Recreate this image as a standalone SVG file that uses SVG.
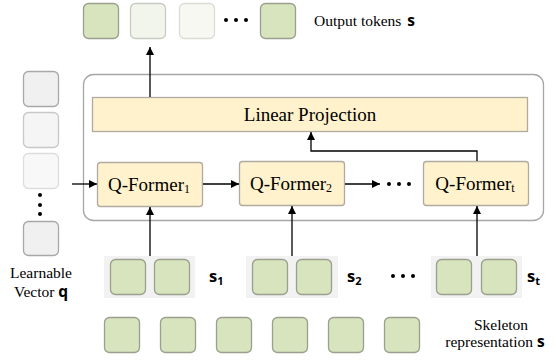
<svg xmlns="http://www.w3.org/2000/svg" width="556" height="360" viewBox="0 0 556 360">
  <defs>
    <marker id="arrow" viewBox="0 0 10 10" refX="10" refY="5" markerWidth="8" markerHeight="8" markerUnits="userSpaceOnUse" orient="auto">
      <path d="M0,0 L10,5 L0,10 z" fill="#000"/>
    </marker>
  </defs>
  <style>
    .tok { fill: #d7e4bd; stroke: #9a9f8e; stroke-width: 1.3; }
    .vec { stroke-width: 1.3; }
    .yel { fill: #fff2cc; stroke: #b0aaa0; stroke-width: 1.3; }
    .grp { fill: #f2f2f2; stroke: none; }
    .serif { font-family: "Liberation Serif", "Times New Roman", serif; fill: #000; }
    .bold { font-family: "Open Sans", "Liberation Sans", sans-serif; font-weight: bold; fill: #000; }
    .edge { fill: none; stroke: #000; stroke-width: 1.3; }
    .dot { fill: #000; }
  </style>

  <!-- output token row -->
  <g id="output-tokens">
    <rect x="83.5" y="3.5" width="35" height="35" rx="5" class="tok"/>
    <rect x="130.5" y="3.5" width="35" height="35" rx="5" fill="#f2f5ec" stroke="#c8cbc2" stroke-width="1.3"/>
    <rect x="179.5" y="3.5" width="35" height="35" rx="5" fill="#f6f8f1" stroke="#dcdcd6" stroke-width="1.3"/>
    <circle cx="226" cy="20" r="2" class="dot"/>
    <circle cx="236" cy="20" r="2" class="dot"/>
    <circle cx="246" cy="20" r="2" class="dot"/>
    <rect x="260.5" y="3.5" width="35" height="35" rx="5" class="tok"/>
    <text x="314" y="26" class="serif" font-size="15.5">Output tokens <tspan class="bold" font-size="15.5" dx="2">s</tspan></text>
  </g>

  <!-- learnable query vectors -->
  <g id="learnable-vector">
    <rect x="23.5" y="71.5" width="35" height="35" rx="5" class="vec" fill="#f0f0f0" stroke="#a8a8a8"/>
    <rect x="23.5" y="112.5" width="35" height="35" rx="5" class="vec" fill="#f5f5f5" stroke="#c8c8c8"/>
    <rect x="23.5" y="153.5" width="35" height="35" rx="5" class="vec" fill="#f8f8f8" stroke="#dddddd"/>
    <circle cx="40" cy="195" r="2" class="dot"/>
    <circle cx="40" cy="205" r="2" class="dot"/>
    <circle cx="40" cy="214" r="2" class="dot"/>
    <rect x="23.5" y="221.5" width="35" height="34" rx="5" class="vec" fill="#f0f0f0" stroke="#a8a8a8"/>
    <text x="41" y="278" class="serif" font-size="15.5" text-anchor="middle">Learnable</text>
    <text x="41" y="297" class="serif" font-size="15.5" text-anchor="middle">Vector <tspan class="bold">q</tspan></text>
  </g>

  <!-- container -->
  <g id="container">
    <rect x="83.5" y="74.5" width="460" height="146" rx="10" fill="#fff" stroke="#a6a6a6" stroke-width="1.3"/>
  </g>

  <g id="linear-projection">
    <rect x="92.5" y="97.5" width="435" height="34" class="yel"/>
    <text x="310" y="121" class="serif" font-size="19" text-anchor="middle">Linear Projection</text>
  </g>

  <g id="qformer-1">
    <rect x="97.5" y="162.5" width="105" height="44" rx="3" class="yel"/>
    <text x="149" y="191" class="serif" font-size="19" text-anchor="middle">Q-Former<tspan font-size="12" dy="2">1</tspan></text>
  </g>
  <g id="qformer-2">
    <rect x="239.5" y="161.5" width="105" height="44" rx="3" class="yel"/>
    <text x="291" y="190" class="serif" font-size="19" text-anchor="middle">Q-Former<tspan font-size="12" dy="2">2</tspan></text>
  </g>
  <g id="qformer-dots">
    <circle cx="389" cy="184" r="2" class="dot"/>
    <circle cx="399" cy="184" r="2" class="dot"/>
    <circle cx="409" cy="184" r="2" class="dot"/>
  </g>
  <g id="qformer-t">
    <rect x="423.5" y="161.5" width="105" height="44" rx="3" class="yel"/>
    <text x="475" y="190" class="serif" font-size="19" text-anchor="middle">Q-Former<tspan font-size="12" dy="2">t</tspan></text>
  </g>

  <!-- skeleton segments -->
  <g id="segment-1">
    <rect x="104" y="256" width="91" height="42" class="grp"/>
    <rect x="110.5" y="259.5" width="35" height="35" rx="5" class="tok"/>
    <rect x="154.5" y="259.5" width="35" height="35" rx="5" class="tok"/>
    <text x="209" y="282" class="bold" font-size="16.5">s<tspan font-size="11" dy="3">1</tspan></text>
  </g>
  <g id="segment-2">
    <rect x="246" y="256" width="92" height="42" class="grp"/>
    <rect x="252.5" y="259.5" width="35" height="35" rx="5" class="tok"/>
    <rect x="296.5" y="259.5" width="35" height="35" rx="5" class="tok"/>
    <text x="347" y="282" class="bold" font-size="16.5">s<tspan font-size="11" dy="3">2</tspan></text>
  </g>
  <g id="segment-dots">
    <circle cx="393" cy="276" r="2" class="dot"/>
    <circle cx="403" cy="276" r="2" class="dot"/>
    <circle cx="413" cy="276" r="2" class="dot"/>
  </g>
  <g id="segment-t">
    <rect x="431" y="256" width="91" height="42" class="grp"/>
    <rect x="436.5" y="259.5" width="35" height="35" rx="5" class="tok"/>
    <rect x="481.5" y="259.5" width="35" height="35" rx="5" class="tok"/>
    <text x="527" y="282" class="bold" font-size="16.5">s<tspan font-size="11" dy="3">t</tspan></text>
  </g>

  <!-- skeleton representation row -->
  <g id="skeleton-representation">
    <rect x="104.5" y="317.5" width="35" height="35" rx="5" class="tok"/>
    <rect x="160.5" y="317.5" width="35" height="35" rx="5" class="tok"/>
    <rect x="216.5" y="317.5" width="35" height="35" rx="5" class="tok"/>
    <rect x="272.5" y="317.5" width="35" height="35" rx="5" class="tok"/>
    <rect x="328.5" y="317.5" width="35" height="35" rx="5" class="tok"/>
    <rect x="384.5" y="317.5" width="35" height="35" rx="5" class="tok"/>
    <text x="501" y="330" class="serif" font-size="15.5" text-anchor="middle">Skeleton</text>
    <text x="495" y="347" class="serif" font-size="15.5" text-anchor="middle">representation <tspan class="bold">s</tspan></text>
  </g>

  <!-- connectors -->
  <g id="connectors">
    <line x1="150" y1="97" x2="150" y2="47" class="edge" marker-end="url(#arrow)"/>
    <line x1="72" y1="184" x2="97" y2="184" class="edge" marker-end="url(#arrow)"/>
    <line x1="203" y1="184" x2="239" y2="184" class="edge" marker-end="url(#arrow)"/>
    <line x1="345" y1="184" x2="380" y2="184" class="edge" marker-end="url(#arrow)"/>
    <polyline points="477,161 477,151 311,151 311,132" class="edge" marker-end="url(#arrow)"/>
    <line x1="150" y1="256" x2="150" y2="207" class="edge" marker-end="url(#arrow)"/>
    <line x1="292" y1="256" x2="292" y2="206" class="edge" marker-end="url(#arrow)"/>
    <line x1="477" y1="256" x2="477" y2="206" class="edge" marker-end="url(#arrow)"/>
  </g>
</svg>
